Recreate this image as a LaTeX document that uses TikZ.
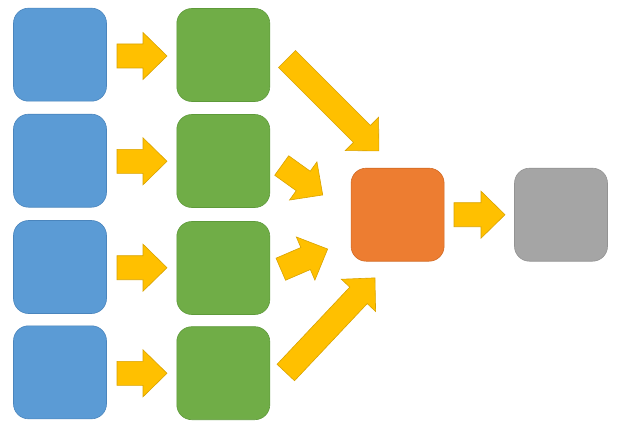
\documentclass[tikz,border=0pt]{standalone}
\usetikzlibrary{calc}
\definecolor{cblue}{HTML}{5B9BD5}
\definecolor{cblueb}{HTML}{4A85BD}
\definecolor{cgreen}{HTML}{70AD47}
\definecolor{cgreenb}{HTML}{5E9A3A}
\definecolor{corange}{HTML}{ED7D31}
\definecolor{coranb}{HTML}{D26A24}
\definecolor{cgray}{HTML}{A5A5A5}
\definecolor{cgrayb}{HTML}{939393}
\definecolor{cgold}{HTML}{FFC000}
\definecolor{cgoldb}{HTML}{D9A300}
\newcommand{\blockarrow}[4]{%
  \begin{scope}[shift={(#1,#2)},rotate=#3]
    \draw[garrow] (0,-12) -- ({#4-24},-12) -- ({#4-24},-23.5) -- (#4,0) -- ({#4-24},23.5) -- ({#4-24},12) -- (0,12) -- cycle;
  \end{scope}}
\begin{document}
\begin{tikzpicture}[x=1pt,y=-1pt,
  box/.style={minimum width=93pt,minimum height=93pt,inner sep=0pt,rounded corners=15pt,line width=0.6pt},
  bluebox/.style={box,fill=cblue,draw=cblueb},
  greenbox/.style={box,fill=cgreen,draw=cgreenb},
  orangebox/.style={box,fill=corange,draw=coranb},
  graybox/.style={box,fill=cgray,draw=cgrayb},
  garrow/.style={fill=cgold,draw=cgoldb,line width=0.6pt,line join=miter}]
\useasboundingbox (0,0) rectangle (620,425);
\fill[white] (0,0) rectangle (620,425);
\node[bluebox] (b1) at (60,54.7) {};
\node[bluebox] (b2) at (60,160.7) {};
\node[bluebox] (b3) at (60,267) {};
\node[bluebox] (b4) at (60,372.3) {};
\node[greenbox] (g1) at (223.3,55) {};
\node[greenbox] (g2) at (223.3,161) {};
\node[greenbox] (g3) at (223.3,268) {};
\node[greenbox] (g4) at (223.3,373.2) {};
\node[orangebox] (o) at (397.6,214.7) {};
\node[graybox] (gr) at (561,214.7) {};
\blockarrow{117}{56}{0}{50}
\blockarrow{117}{161.3}{0}{50}
\blockarrow{117}{267.7}{0}{50}
\blockarrow{117}{373.3}{0}{50}
\blockarrow{287}{59}{-45}{130}
\blockarrow{281.7}{165.5}{-35.7}{50.5}
\blockarrow{280.8}{269.2}{23.3}{51}
\blockarrow{285.8}{372.5}{46.7}{130}
\blockarrow{454}{214.7}{0}{51}
\end{tikzpicture}
\end{document}
